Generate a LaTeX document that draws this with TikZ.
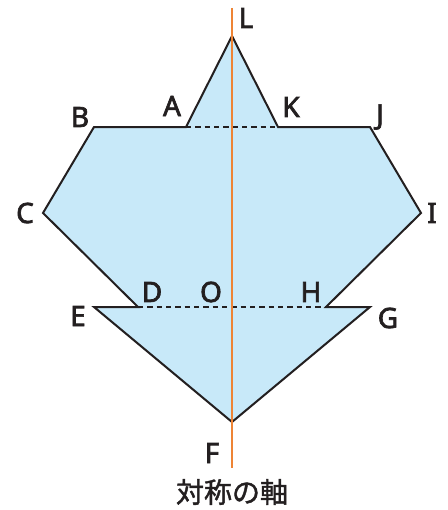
\documentclass[tikz,border=0pt]{standalone}
\usepackage{fontspec}
\setmainfont{Noto Sans}
\newfontfamily\lblfont{Noto Sans}[UprightFeatures={FakeBold=2.5}]
\newfontfamily\jpfont{Noto Sans CJK JP}[UprightFeatures={FakeBold=1.5}]
\definecolor{fillblue}{HTML}{C8E9F9}
\definecolor{axisorange}{HTML}{EE8435}
\definecolor{textblack}{HTML}{231F20}
\begin{document}
\begin{tikzpicture}[x=0.75pt,y=-0.75pt,
  lbl/.style={font=\lblfont\fontsize{21}{24}\selectfont, text=textblack, inner sep=0pt},
  edge/.style={draw=textblack, line width=1.5pt, line join=miter},
  hidden/.style={draw=textblack, line width=1.3pt, dash pattern=on 4pt off 3pt}]
\useasboundingbox (0,0) rectangle (447,510);
\coordinate (L) at (232,36);
\coordinate (K) at (278,127);
\coordinate (J) at (370,127);
\coordinate (I) at (421,213);
\coordinate (H) at (326,307);
\coordinate (G) at (370,307);
\coordinate (F) at (232,422);
\coordinate (E) at (94,307);
\coordinate (D) at (138,307);
\coordinate (C) at (43,213);
\coordinate (B) at (94,127);
\coordinate (A) at (186,127);
\coordinate (axtop) at (232,8);
\coordinate (axbot) at (232,468);
\fill[fillblue] (L) -- (K) -- (J) -- (I) -- (H) -- (G) -- (F) -- (E) -- (D) -- (C) -- (B) -- (A) -- cycle;
\draw[hidden] (A) -- (K);
\draw[hidden] (D) -- (H);
\draw[edge] (A) -- (L) -- (K) -- (J) -- (I) -- (H) -- (G) -- (F) -- (E) -- (D) -- (C) -- (B) -- cycle;
\draw[axisorange, line width=2.2pt] (axtop) -- (axbot);
\node[lbl] (tL) at (246,18) {L};
\node[lbl] (tA) at (172,106) {A};
\node[lbl] (tK) at (291,107) {K};
\node[lbl] (tB) at (80,117) {B};
\node[lbl] (tJ) at (380,117) {J};
\node[lbl] (tC) at (25,213) {C};
\node[lbl] (tI) at (432,213) {I};
\node[lbl] (tD) at (152,292) {D};
\node[lbl] (tO) at (211,292) {O};
\node[lbl] (tH) at (311,292) {H};
\node[lbl] (tE) at (78,316) {E};
\node[lbl] (tG) at (388,318) {G};
\node[lbl] (tF) at (212,453) {F};
\node[lbl, font=\jpfont\fontsize{21}{24}\selectfont] (axis) at (232,492) {対称の軸};
\end{tikzpicture}
\end{document}
